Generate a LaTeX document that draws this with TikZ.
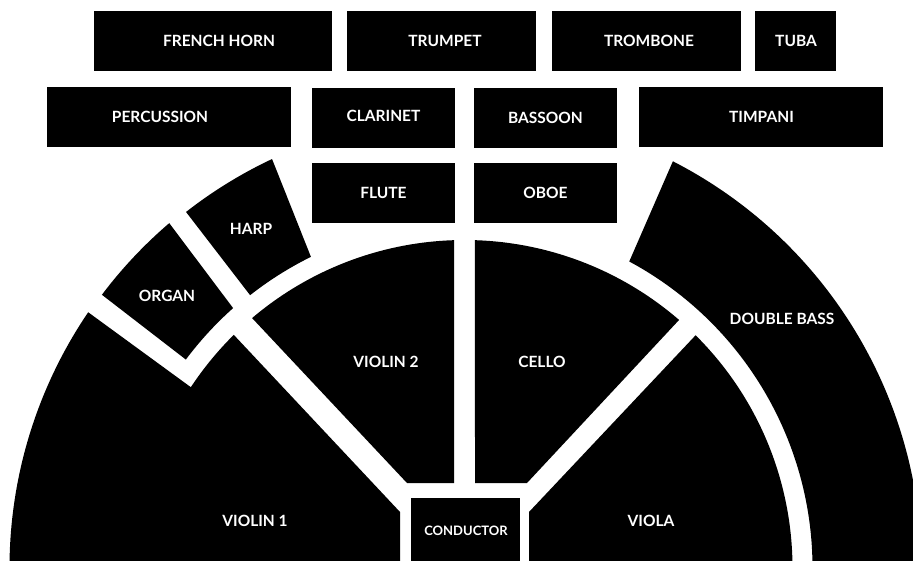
\documentclass[tikz,border=0pt]{standalone}
\usepackage{fontspec}
\setmainfont{Lato}
\usetikzlibrary{calc}
\begin{document}
\begin{tikzpicture}[x=1pt,y=1pt,
  blk/.style={fill=black},
  lbl/.style={text=white,inner sep=0pt,font=\bfseries\fontsize{15.5}{17}\selectfont},
  smalllbl/.style={lbl,font=\bfseries\fontsize{13}{15}\selectfont}]
\useasboundingbox (0,0) rectangle (913,560);
\fill[white] (0,0) rectangle (913,560);
\clip (0,0) rectangle (913,560);
\coordinate (C) at (464.5,-8);
% brass row
\fill[blk] (94,489) rectangle (332,549);
\fill[blk] (347,489) rectangle (536,549);
\fill[blk] (552,489) rectangle (741,549);
\fill[blk] (755,489) rectangle (836,549);
% second row
\fill[blk] (47,413) rectangle (291,473);
\fill[blk] (312,412) rectangle (455,472);
\fill[blk] (474,412) rectangle (617,472);
\fill[blk] (639,413) rectangle (883,473);
% third row
\fill[blk] (312,337) rectangle (455,397);
\fill[blk] (474,337) rectangle (617,397);
% violin 2
\fill[blk] (454,77) -- ($(C)+(91.83:328)$) arc[start angle=91.83,end angle=130.36,radius=328] -- (407,77) -- cycle;
% cello
\fill[blk] (475,77) -- ($(C)+(88.17:328)$) arc[start angle=88.17,end angle=49.14,radius=328] -- (527,77) -- cycle;
% viola
\fill[blk] (529,-20) -- (529,48) -- ($(C)+(45.2:328)$) arc[start angle=45.2,end angle=-2,radius=328] -- (529,-20) -- cycle;
% violin 1
\fill[blk] (400,-25) -- (400,48) -- ($(C)+(134.7:328)$) arc[start angle=134.7,end angle=146.55,radius=328]
  -- ($(C)+(145.8:455)$) arc[start angle=145.8,end angle=182,radius=455] -- (400,-25) -- cycle;
% organ
\fill[blk] ($(C)+(143.0:454)$) arc[start angle=143.0,end angle=130.57,radius=454]
  -- ($(C)+(131.68:348)$) arc[start angle=131.68,end angle=143.2,radius=348] -- cycle;
% harp
\fill[blk] ($(C)+(128.03:452)$) arc[start angle=128.03,end angle=115.2,radius=452]
  -- ($(C)+(116.27:347)$) arc[start angle=116.27,end angle=128.16,radius=347] -- cycle;
% double bass
\fill[blk] ($(C)+(62.87:457)$) arc[start angle=62.87,end angle=-3,radius=457]
  -- ($(C)+(-3:348)$) arc[start angle=-3,end angle=61.74,radius=348] -- cycle;
% conductor
\fill[blk] (411,-5) rectangle (520,62);
% labels
\node[lbl] (frenchhorn) at (219,519) {FRENCH HORN};
\node[lbl] (trumpet) at (445,519) {TRUMPET};
\node[lbl] (trombone) at (649,519) {TROMBONE};
\node[lbl] (tuba) at (796,519) {TUBA};
\node[lbl] (percussion) at (160,443) {PERCUSSION};
\node[lbl] (clarinet) at (383.5,444) {CLARINET};
\node[lbl] (bassoon) at (545.5,442) {BASSOON};
\node[lbl] (timpani) at (761.5,443) {TIMPANI};
\node[lbl] (flute) at (383.5,367) {FLUTE};
\node[lbl] (oboe) at (545.5,367) {OBOE};
\node[lbl] (harp) at (251,331) {HARP};
\node[lbl] (organ) at (167,264) {ORGAN};
\node[lbl] (violin1) at (255,39) {VIOLIN 1};
\node[lbl] (violin2) at (386,198) {VIOLIN 2};
\node[lbl] (cello) at (542,198) {CELLO};
\node[lbl] (viola) at (651,39) {VIOLA};
\node[lbl] (doublebass) at (782,241) {DOUBLE BASS};
\node[smalllbl] (conductor) at (466,29) {CONDUCTOR};
\end{tikzpicture}
\end{document}
